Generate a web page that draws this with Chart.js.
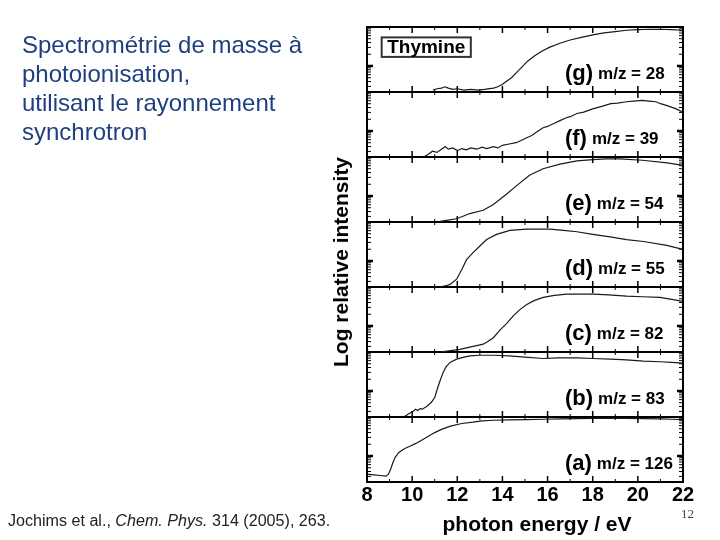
<!DOCTYPE html>
<html>
<head>
<meta charset="utf-8">
<script src="https://cdn.jsdelivr.net/npm/chart.js@4.4.1/dist/chart.umd.min.js"></script>
<style>
  html, body { margin: 0; padding: 0; background: #fff; }
  #wrap { position: relative; width: 720px; height: 540px; overflow: hidden; }
  #chart { position: absolute; left: 0; top: 0; }
  .intro { position: absolute; left: 22px; top: 30px; font: 24px/29px "Liberation Sans", Arial, sans-serif; color: #1f3f7f; }
  .axis-t { position: absolute; font: bold 21px "Liberation Sans", Arial, sans-serif; color: #000; white-space: nowrap; }
  #ytitle { left: 341px; top: 262px; transform: translate(-50%, -50%) rotate(-90deg); }
  #xtitle { left: 537px; top: 524px; transform: translate(-50%, -50%); }
  #cite { position: absolute; left: 8px; top: 512px; font: 16px "Liberation Sans Narrow", "Arial Narrow", "Liberation Sans", sans-serif; color: #222; white-space: nowrap; transform-origin: 0 0; }
  #page { position: absolute; left: 681px; top: 506px; font: 13px "Liberation Serif", "DejaVu Serif", serif; color: #444; }
</style>
</head>
<body>
<div id="wrap">
  <canvas id="chart" width="720" height="540"></canvas>
  <div class="intro">Spectrométrie de masse à<br>photoionisation,<br>utilisant le rayonnement<br>synchrotron</div>
  <div class="axis-t" id="ytitle">Log relative intensity</div>
  <div class="axis-t" id="xtitle">photon energy / eV</div>
  <div id="cite">Jochims et al., <i>Chem. Phys.</i> 314 (2005), 263.</div>
  <div id="page">12</div>
</div>
<script>
// --- DATOS (energía en eV, intensidad relativa dentro de cada panel 0..1) ---
const panelLetters = ['a', 'b', 'c', 'd', 'e', 'f', 'g'];
const massValues = [126, 83, 82, 55, 54, 39, 28];
const xTicks = [8, 10, 12, 14, 16, 18, 20, 22];

const enA = [8.0, 8.3, 8.6, 8.85, 8.95, 9.05, 9.15, 9.25, 9.4, 9.55, 9.7, 9.9, 10.14, 10.4, 10.7, 11.0, 11.3, 11.7, 12.2, 12.7, 13.1, 13.6, 14.3, 15.1, 15.8, 16.6, 17.3, 18.0, 18.8, 19.5, 20.2, 21.0, 21.5, 22.0];
const intA = [0.12, 0.11, 0.10, 0.09, 0.12, 0.20, 0.30, 0.38, 0.45, 0.49, 0.52, 0.55, 0.59, 0.64, 0.70, 0.76, 0.81, 0.86, 0.90, 0.92, 0.94, 0.95, 0.955, 0.96, 0.965, 0.97, 0.975, 0.98, 0.98, 0.98, 0.975, 0.97, 0.965, 0.96];

const enB = [9.68, 9.85, 10.05, 10.15, 10.25, 10.35, 10.45, 10.64, 10.86, 11.0, 11.16, 11.28, 11.38, 11.5, 11.68, 11.97, 12.3, 12.56, 13.0, 13.6, 14.3, 15.0, 15.8, 16.5, 17.3, 18.0, 18.8, 19.5, 20.25, 21.0, 21.5, 22.0];
const intB = [0.01, 0.05, 0.09, 0.12, 0.10, 0.13, 0.12, 0.16, 0.23, 0.30, 0.48, 0.60, 0.69, 0.77, 0.84, 0.89, 0.92, 0.94, 0.95, 0.95, 0.94, 0.92, 0.90, 0.91, 0.91, 0.90, 0.89, 0.88, 0.86, 0.85, 0.84, 0.83];

const enC = [11.24, 11.7, 12.12, 12.6, 13.15, 13.3, 13.6, 13.9, 14.19, 14.49, 14.8, 15.08, 15.4, 15.81, 16.3, 16.85, 17.4, 18.03, 18.7, 19.5, 20.2, 20.98, 21.5, 22.0];
const intC = [0.0, 0.02, 0.04, 0.08, 0.12, 0.15, 0.22, 0.34, 0.44, 0.56, 0.66, 0.73, 0.79, 0.84, 0.87, 0.89, 0.89, 0.89, 0.88, 0.86, 0.85, 0.84, 0.81, 0.78];

const enD = [11.24, 11.5, 11.68, 11.97, 12.2, 12.41, 12.7, 13.0, 13.3, 13.74, 14.33, 15.07, 16.1, 16.7, 17.3, 18.0, 18.77, 19.5, 20.25, 21.28, 22.0];
const intD = [0.0, 0.02, 0.04, 0.12, 0.27, 0.42, 0.53, 0.63, 0.73, 0.81, 0.87, 0.89, 0.89, 0.87, 0.85, 0.81, 0.77, 0.73, 0.70, 0.64, 0.58];

const enE = [11.24, 11.6, 11.97, 12.56, 13.15, 13.6, 14.19, 14.63, 15.2, 15.8, 16.55, 17.3, 18.0, 18.6, 19.2, 20.2, 21.3, 22.0];
const intE = [0.01, 0.03, 0.05, 0.13, 0.18, 0.27, 0.43, 0.56, 0.72, 0.82, 0.89, 0.94, 0.96, 0.97, 0.97, 0.95, 0.91, 0.87];

const enF = [10.5, 10.7, 10.9, 11.1, 11.3, 11.46, 11.6, 11.8, 12.0, 12.2, 12.4, 12.6, 12.86, 13.1, 13.3, 13.6, 13.8, 14.0, 14.3, 14.6, 14.8, 15.1, 15.3, 15.5, 15.8, 16.0, 16.3, 16.55, 16.8, 17.0, 17.3, 17.6, 18.0, 18.4, 18.8, 19.1, 19.5, 19.8, 20.2, 20.5, 20.8, 21.0, 21.3, 21.7, 22.0];
const intF = [0.0, 0.04, 0.09, 0.07, 0.12, 0.16, 0.12, 0.14, 0.10, 0.13, 0.11, 0.14, 0.12, 0.15, 0.13, 0.16, 0.14, 0.18, 0.20, 0.22, 0.25, 0.30, 0.33, 0.38, 0.45, 0.47, 0.52, 0.56, 0.60, 0.62, 0.67, 0.69, 0.74, 0.78, 0.82, 0.83, 0.85, 0.86, 0.87, 0.86, 0.85, 0.82, 0.79, 0.74, 0.69];

const enG = [10.92, 11.1, 11.3, 11.45, 11.6, 11.8, 12.0, 12.3, 12.6, 12.9, 13.2, 13.6, 13.8, 14.0, 14.2, 14.4, 14.6, 14.85, 15.1, 15.4, 15.7, 16.1, 16.55, 17.0, 17.5, 18.0, 18.5, 19.0, 19.5, 20.0, 20.5, 21.0, 21.5, 22.0];
const intG = [0.03, 0.05, 0.06, 0.08, 0.06, 0.04, 0.05, 0.03, 0.04, 0.03, 0.04, 0.06, 0.08, 0.12, 0.17, 0.22, 0.29, 0.38, 0.47, 0.55, 0.62, 0.69, 0.75, 0.80, 0.84, 0.88, 0.91, 0.93, 0.95, 0.96, 0.965, 0.965, 0.96, 0.95];

const energies = [enA, enB, enC, enD, enE, enF, enG];
const intensities = [intA, intB, intC, intD, intE, intF, intG];

// --- DECORACIÓN DE PANELES ---
const LOG_MAJOR = 0.4;   // posición del tick mayor dentro del panel
const LOG_DECADE = 0.6;  // altura de una década en unidades de panel

const panelDecor = {
  id: 'panelDecor',
  afterDatasetsDraw(chart) {
    const { ctx, chartArea: a, scales: { x, y } } = chart;
    ctx.save();
    ctx.strokeStyle = '#000';

    // ticks del eje x en cada borde de panel
    for (let k = 0; k <= 7; k++) {
      const py = y.getPixelForValue(k);
      for (let e = 8; e <= 22; e++) {
        const px = x.getPixelForValue(e);
        const major = e % 2 === 0;
        const len = major ? 6 : 3;
        ctx.lineWidth = major ? 1.5 : 1;
        ctx.beginPath();
        if (k > 0) { ctx.moveTo(px, py); ctx.lineTo(px, py + len); }
        if (k < 7) { ctx.moveTo(px, py); ctx.lineTo(px, py - len); }
        ctx.stroke();
      }
    }

    // ticks logarítmicos a izquierda y derecha
    for (let i = 0; i < 7; i++) {
      for (let m = -1; m <= 1; m++) {
        const base = i + LOG_MAJOR + m * LOG_DECADE;
        for (let q = 1; q <= 9; q++) {
          const v = base + LOG_DECADE * Math.log10(q);
          if (v <= i + 0.02 || v >= i + 0.98) continue;
          const py = y.getPixelForValue(v);
          const len = q === 1 ? 6 : 4;
          ctx.lineWidth = q === 1 ? 2.5 : 1;
          ctx.beginPath();
          ctx.moveTo(a.left, py); ctx.lineTo(a.left + len, py);
          ctx.moveTo(a.right, py); ctx.lineTo(a.right - len, py);
          ctx.stroke();
        }
      }
    }

    // marco
    ctx.lineWidth = 2;
    ctx.strokeRect(a.left, a.top, a.right - a.left, a.bottom - a.top);

    // etiquetas de panel
    ctx.fillStyle = '#000';
    ctx.textBaseline = 'middle';
    const lx = x.getPixelForValue(16.77);
    for (let i = 0; i < 7; i++) {
      const py = y.getPixelForValue(i + 0.28);
      ctx.font = 'bold 22px "Liberation Sans", Arial, sans-serif';
      const tag = `(${panelLetters[i]})`;
      ctx.fillText(tag, lx, py);
      const w = ctx.measureText(tag).width;
      ctx.font = 'bold 17px "Liberation Sans", Arial, sans-serif';
      ctx.fillText(`m/z = ${massValues[i]}`, lx + w + 5, py + 1);
    }

    // recuadro "Thymine"
    const bx0 = x.getPixelForValue(8.65), bx1 = x.getPixelForValue(12.6);
    const by0 = y.getPixelForValue(6.84), by1 = y.getPixelForValue(6.54);
    ctx.lineWidth = 2;
    ctx.strokeStyle = '#333';
    ctx.strokeRect(bx0, by0, bx1 - bx0, by1 - by0);
    ctx.font = 'bold 19px "Liberation Sans", Arial, sans-serif';
    ctx.textAlign = 'center';
    ctx.fillText('Thymine', (bx0 + bx1) / 2, (by0 + by1) / 2 + 1);
    ctx.restore();
  }
};

// --- GRÁFICO ---
const datasets = energies.map((en, i) => ({
  label: `(${panelLetters[i]}) m/z = ${massValues[i]}`,
  data: en.map((e, j) => ({ x: e, y: i + intensities[i][j] })),
  borderColor: '#1a1a1a',
  borderWidth: 1.2,
  pointRadius: 0,
  tension: 0,
  fill: false
}));

new Chart(document.getElementById('chart').getContext('2d'), {
  type: 'line',
  data: { datasets },
  options: {
    responsive: false,
    animation: false,
    layout: { padding: { left: 0, right: 37, top: 27, bottom: 0 } },
    plugins: { legend: { display: false }, tooltip: { enabled: false } },
    scales: {
      x: {
        type: 'linear', min: 8, max: 22,
        afterBuildTicks: (s) => { s.ticks = xTicks.map(v => ({ value: v })); },
        afterFit: (s) => { s.height = 58; },
        grid: { display: false },
        border: { display: false },
        ticks: { color: '#000', padding: -7, font: { family: '"Liberation Sans", Arial, sans-serif', size: 20, weight: 'bold' } }
      },
      y: {
        type: 'linear', min: 0, max: 7,
        ticks: { stepSize: 1, display: false },
        afterFit: (s) => { s.width = 367; },
        grid: { color: '#000', lineWidth: 2, drawTicks: false },
        border: { display: false }
      }
    }
  },
  plugins: [panelDecor]
});

// ajustar el ancho de la cita
const cite = document.getElementById('cite');
cite.style.transform = `scaleX(${322 / cite.offsetWidth})`;
</script>
</body>
</html>
